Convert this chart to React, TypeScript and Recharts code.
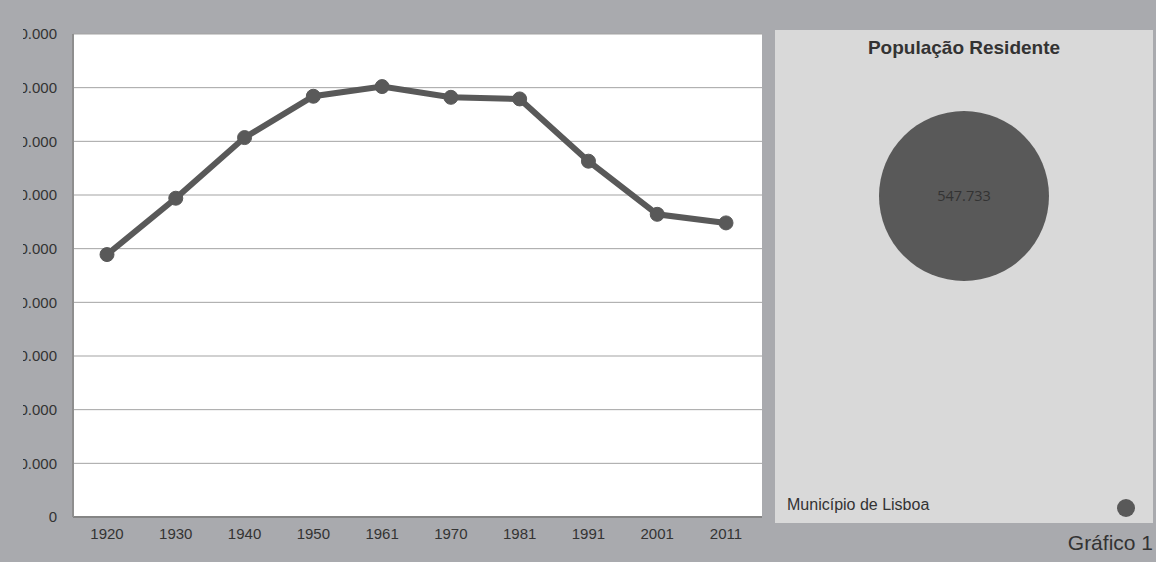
import React from 'react';
import {
  LineChart, Line, XAxis, YAxis, CartesianGrid,
  ScatterChart, Scatter, ZAxis, LabelList,
} from 'recharts';

const years = ['1920', '1930', '1940', '1950', '1961', '1970', '1981', '1991', '2001', '2011'];
const population = [489000, 594000, 707000, 784000, 802000, 782000, 779000, 663000, 564000, 548000];
const yTicks = [0, 100000, 200000, 300000, 400000, 500000, 600000, 700000, 800000, 900000];

const bubbleLabel = 'Município de Lisboa';
const bubbleValue = 547733;

const fmt = (v: number) => String(v).replace(/\B(?=(\d{3})+(?!\d))/g, '.');

const lineData = years.map((year, i) => ({ year, value: population[i] }));
const bubbleData = [{ x: 1, y: 1, z: bubbleValue, label: fmt(bubbleValue) }];

const BG = '#a9aaae';
const DARK = '#595959';
const TEXT = '#333333';

export default function App() {
  return (
    <div style={{ position: 'absolute', left: 0, top: 0, width: 1156, height: 562, background: BG, overflow: 'hidden', fontFamily: 'Liberation Sans, Arial, sans-serif' }}>
      {/* line chart, left labels clipped like the original */}
      <div style={{ position: 'absolute', left: 23, top: 0, width: 760, height: 562, overflow: 'hidden' }}>
        <div style={{ position: 'absolute', left: -23, top: 0 }}>
          <LineChart width={780} height={562} data={lineData} margin={{ top: 34, right: 18, bottom: 15, left: 0 }}>
            <CartesianGrid vertical={false} fill="#ffffff" stroke="#a3a3a3" strokeWidth={1} />
            <XAxis
              dataKey="year"
              height={30}
              padding={{ left: 34, right: 36 }}
              tickLine={false}
              tickSize={5}
              tickMargin={6}
              axisLine={{ stroke: '#858585', strokeWidth: 2 }}
              tick={{ fontSize: 15, fill: TEXT }}
              interval={0}
            />
            <YAxis
              width={73}
              domain={[0, 900000]}
              ticks={yTicks}
              tickFormatter={fmt}
              tickLine={false}
              tickSize={8}
              tickMargin={8}
              axisLine={{ stroke: '#8e8e8e', strokeWidth: 2 }}
              tick={{ fontSize: 15, fill: TEXT }}
              interval={0}
            />
            <Line
              type="linear"
              dataKey="value"
              stroke={DARK}
              strokeWidth={6}
              dot={{ r: 7, fill: DARK, stroke: DARK, strokeWidth: 1 }}
              isAnimationActive={false}
            />
          </LineChart>
        </div>
      </div>

      {/* bubble panel */}
      <div style={{ position: 'absolute', left: 775, top: 30, width: 378, height: 493, background: '#d9d9d9' }}>
        <div style={{ position: 'absolute', left: 0, top: 7, width: 378, textAlign: 'center', fontSize: 19, fontWeight: 'bold', color: TEXT }}>
          População Residente
        </div>
        <div style={{ position: 'absolute', left: 0, top: 0 }}>
          <ScatterChart width={378} height={332} margin={{ top: 0, right: 0, bottom: 0, left: 0 }}>
            <XAxis type="number" dataKey="x" domain={[0, 2]} hide />
            <YAxis type="number" dataKey="y" domain={[0, 2]} hide />
            <ZAxis type="number" dataKey="z" domain={[0, bubbleValue]} range={[0, 22698]} />
            <Scatter data={bubbleData} fill={DARK} isAnimationActive={false}>
              <LabelList
                dataKey="label"
                position="center"
                style={{ fontFamily: 'Open Sans, sans-serif', fontSize: 14.5, fill: TEXT }}
              />
            </Scatter>
          </ScatterChart>
        </div>
        <div style={{ position: 'absolute', left: 12, top: 466, fontSize: 16, color: TEXT }}>{bubbleLabel}</div>
        <div style={{ position: 'absolute', left: 342, top: 469, width: 18, height: 18, borderRadius: 9, background: DARK }} />
      </div>

      <div style={{ position: 'absolute', right: 3, top: 531, fontSize: 21, color: TEXT }}>Gráfico 1</div>
    </div>
  );
}
